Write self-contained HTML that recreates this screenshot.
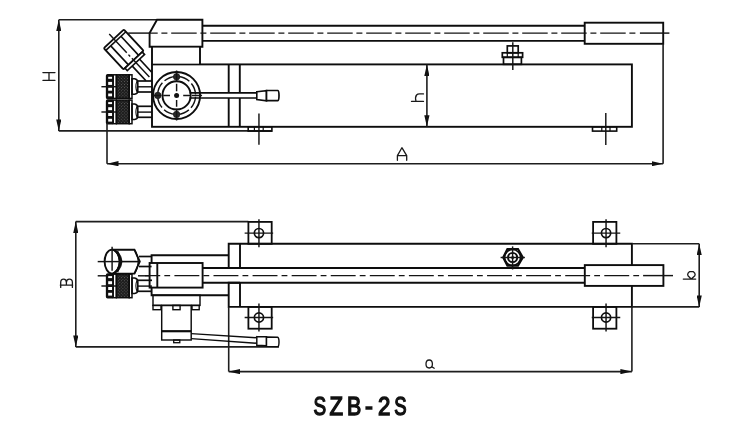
<!DOCTYPE html>
<html><head><meta charset="utf-8">
<style>
html,body{margin:0;padding:0;background:#fff;width:751px;height:439px;overflow:hidden}
svg{display:block;will-change:transform}
.t{font-family:"Liberation Sans",sans-serif}
.d{stroke:#1e1e1e;stroke-width:1.6}
.c{stroke:#141414;stroke-width:1.45}
</style></head>
<body>
<svg width="751" height="439" viewBox="0 0 751 439">
<defs>
<pattern id="kn" width="2.2" height="2.2" patternUnits="userSpaceOnUse" patternTransform="rotate(45)">
<rect width="2.2" height="2.2" fill="#1c1c1c"/><rect x="0" y="0" width="0.9" height="0.9" fill="#606060"/>
</pattern>
<marker id="ar" viewBox="0 0 11.5 5.2" refX="11.5" refY="2.6" markerWidth="11.5" markerHeight="5.2" markerUnits="userSpaceOnUse" orient="auto-start-reverse">
<path d="M0,0 L11.5,2.6 L0,5.2 Z" fill="#111" stroke="none"/>
</marker>
</defs>
<g fill="none" stroke="#0d0d0d" stroke-width="1.9">

<!-- ================= TOP VIEW ================= -->
<!-- H dimension -->
<line class="d" x1="58.8" y1="19.7" x2="58.8" y2="130.9" marker-start="url(#ar)" marker-end="url(#ar)"/>
<line class="d" x1="58.8" y1="19.8" x2="157" y2="19.8"/>
<line class="d" x1="58.8" y1="130.9" x2="272" y2="130.9"/>

<!-- handle block -->
<path d="M157,19.8 L202.4,19.8 L202.4,46.8 L149.6,46.8 L149.6,33 Z"/>
<!-- handle rod -->
<line x1="202.5" y1="25.7" x2="584.7" y2="25.7"/>
<line x1="202.5" y1="40.9" x2="584.7" y2="40.9"/>
<rect x="584.7" y="22.7" width="78.5" height="21.1"/>
<line class="c" x1="150" y1="33.1" x2="636" y2="33.1" stroke-dasharray="25.5 3.7 6 3.8" stroke-dashoffset="17.8"/>
<line class="c" x1="639.9" y1="33.1" x2="669.4" y2="33.1"/>

<!-- main body -->
<rect x="152" y="64.4" width="479.9" height="62.4"/>
<line x1="228.7" y1="64.4" x2="228.7" y2="126.8"/>
<line x1="239.8" y1="64.4" x2="239.8" y2="126.8"/>

<!-- valve circle -->
<circle cx="176.6" cy="95.5" r="23.5"/>
<circle cx="176.6" cy="95.4" r="14.1"/>
<circle cx="176.6" cy="95.4" r="19" class="c" stroke-dasharray="12 2.9" stroke-dashoffset="13.45"/>
<g fill="#2a2a2a" stroke="#1a1a1a" stroke-width="0.8">
<circle cx="176.6" cy="76.8" r="3.2"/>
<circle cx="176.6" cy="114.4" r="3.2"/>
<circle cx="157.8" cy="95.4" r="3.2"/>
</g>
<circle cx="176.6" cy="95.4" r="2.5" fill="#111" stroke="none"/>
<path class="c" d="M176.6,70.5 L176.6,81.8 M176.6,83.7 L176.6,91.2 M176.6,100 L176.6,106.8 M176.6,108.7 L176.6,120.6 M153,95.4 L161.3,95.4 M163.2,95.4 L170,95.4 M183.2,95.4 L190.1,95.4 M192,95.4 L202.2,95.4"/>
<!-- lever rod -->
<rect x="202.2" y="92.9" width="54.7" height="5.1" fill="#fff" stroke="none"/>
<path stroke-width="1.7" d="M189.5,92.9 L256.8,92.9 M189.5,98 L256.8,98"/>
<path stroke-width="1.6" d="M256.8,91.7 L266.5,90.7 L266.5,100.8 L256.8,99.6 Z" fill="#fff"/>
<path stroke-width="1.7" d="M266.5,90.5 L277.8,90.5 Q279,90.8 279,95.6 Q279,100.4 277.8,100.7 L266.5,100.7 Z" fill="#fff"/>

<!-- knobs top view -->
<g id="knob">
<rect x="106.6" y="74.8" width="6.5" height="23.6" rx="1" fill="#111" stroke-width="1.5"/>
<g fill="#fff" stroke="none">
<rect x="108.2" y="76.8" width="4" height="2"/>
<rect x="108.2" y="81.9" width="4" height="3"/>
<rect x="108.2" y="87.7" width="4" height="3"/>
<rect x="108.2" y="93.5" width="4" height="2.8"/>
</g>
<rect x="113.1" y="74.8" width="3.2" height="23.6" stroke-width="1.5"/>
<rect x="116.5" y="74.8" width="12.7" height="23.6" fill="url(#kn)" stroke-width="1.5"/>
<rect x="129.2" y="74.8" width="2.8" height="23.6" stroke-width="1.5"/>
<path stroke-width="1.6" d="M132,78.7 L134.6,78.7 Q137.8,79.2 137.8,82.5 L137.8,90.8 Q137.8,94 134.6,94.2 L132,94.2 Z"/>
<path d="M137.2,80.6 Q134.6,86.5 137.2,92.4" stroke-width="1.1"/>
<line x1="137.8" y1="81" x2="152" y2="81" stroke-width="1.7"/>
<line x1="137.8" y1="92" x2="152" y2="92" stroke-width="1.7"/>
<line x1="137.8" y1="86.8" x2="152" y2="86.8" stroke-width="1.4"/>
<line class="c" x1="101.4" y1="86.7" x2="116" y2="86.7"/>
</g>
<use href="#knob" transform="translate(0,25.3)"/>
<line class="d" x1="107" y1="123" x2="107" y2="163.7"/>

<!-- angled knob -->
<g transform="translate(113.8,38.9) rotate(47)">
<path d="M32.2,-5 L49.9,-5 M32.2,5 L52.5,5" stroke-width="1.7"/>
<rect x="0" y="-13.7" width="29" height="27.4" rx="1.2" fill="#fff"/>
<line x1="3" y1="-13.7" x2="3" y2="13.7" stroke-width="1.6"/>
<line x1="3" y1="-7" x2="29" y2="-7" stroke-width="1.6"/>
<line x1="3" y1="7" x2="29" y2="7" stroke-width="1.6"/>
<rect x="29" y="-11.8" width="3.4" height="23.6" fill="#fff" stroke-width="1.7"/>
<line class="c" x1="-6.7" y1="0" x2="55.3" y2="0" stroke-dasharray="25.7 2.5 2.5 2.5"/>
</g>
<line class="c" x1="128.2" y1="33.1" x2="150" y2="33.1"/>
<rect x="152" y="47.8" width="48" height="15.6" fill="#fff" stroke="none"/>
<path d="M152,46.8 L152,64.4 M200,64.4 L200,46.8"/>

<!-- top nut -->
<rect x="507.3" y="45.9" width="10.9" height="6.9" stroke-width="1.7"/>
<rect x="502.3" y="52.8" width="20.3" height="4.5" stroke-width="1.7"/>
<rect x="503.5" y="57.3" width="17.9" height="7" stroke-width="1.7"/>
<path d="M507.3,52.8 L507.3,57.3 M518.2,52.8 L518.2,57.3" stroke-width="1.2"/>
<line class="c" x1="512.8" y1="42.3" x2="512.8" y2="70.1"/>

<!-- feet top view -->
<rect x="248.2" y="126.8" width="23.7" height="4.3" stroke-width="1.6"/>
<path d="M254.4,126.8 L254.4,131.1 M263.2,126.8 L263.2,131.1" stroke-width="1.2"/>
<rect x="592.5" y="126.8" width="24.2" height="4.3" stroke-width="1.6"/>
<path d="M601.8,126.8 L601.8,131.1 M610,126.8 L610,131.1" stroke-width="1.2"/>
<line class="c" x1="258.95" y1="113.6" x2="258.95" y2="144.8"/>
<line class="c" x1="605.8" y1="113" x2="605.8" y2="145"/>

<!-- h dimension -->
<line class="d" x1="426.9" y1="64.4" x2="426.9" y2="126.8" marker-start="url(#ar)" marker-end="url(#ar)"/>
<!-- A dimension -->
<line class="d" x1="107" y1="163.7" x2="663.1" y2="163.7" marker-start="url(#ar)" marker-end="url(#ar)"/>
<line class="d" x1="663.1" y1="43.8" x2="663.1" y2="163.7"/>

<!-- ================= BOTTOM VIEW ================= -->
<line class="d" x1="75.8" y1="221.6" x2="75.8" y2="346.9" marker-start="url(#ar)" marker-end="url(#ar)"/>
<line class="d" x1="75.8" y1="221.6" x2="248.4" y2="221.6"/>
<line class="d" x1="75.8" y1="346.9" x2="279" y2="346.9"/>

<!-- main body -->
<path d="M240,268 L228.7,268 L228.7,243.8 L631.9,243.8 L631.9,265.1 M631.9,285.9 L631.9,306.9 L228.7,306.9 L228.7,282.8 L240,282.8"/>
<line x1="240" y1="243.8" x2="240" y2="268"/>
<line x1="240" y1="282.8" x2="240" y2="306.9"/>
<line x1="202.6" y1="268" x2="584.8" y2="268"/>
<line x1="202.6" y1="282.8" x2="584.8" y2="282.8"/>
<rect x="584.8" y="265.1" width="78.6" height="20.8"/>

<!-- feet -->
<rect x="248.4" y="221.9" width="23.3" height="21.9" stroke-width="1.8"/>
<circle cx="258.95" cy="233.1" r="4.6" stroke-width="1.7"/>
<path class="c" d="M244.65,233.1 L273.15,233.1 M258.95,219.2 L258.95,247.2"/>
<rect x="248.4" y="306.9" width="23.3" height="21.8" stroke-width="1.8"/>
<circle cx="258.95" cy="317.5" r="4.6" stroke-width="1.7"/>
<path class="c" d="M244.65,317.5 L273.15,317.5 M258.95,303.6 L258.95,331.6"/>
<rect x="593.1" y="221.9" width="23.3" height="21.9" stroke-width="1.8"/>
<circle cx="606.05" cy="233.1" r="4.6" stroke-width="1.7"/>
<path class="c" d="M591.75,233.1 L620.25,233.1 M606.05,219.2 L606.05,247.2"/>
<rect x="593.1" y="306.9" width="23.3" height="21.8" stroke-width="1.8"/>
<circle cx="606.05" cy="317.5" r="4.6" stroke-width="1.7"/>
<path class="c" d="M591.75,317.5 L620.25,317.5 M606.05,303.6 L606.05,331.6"/>

<!-- hex nut -->
<path d="M503.2,257.4 L507.4,249 L518,249 L522.8,257.4 L518,265.6 L507.4,265.6 Z" stroke-width="2.1"/>
<circle cx="512.6" cy="257.5" r="8" stroke-width="1.7"/>
<circle cx="512.6" cy="257.5" r="4.6" stroke-width="1.9"/>
<circle cx="512.6" cy="257.5" r="1.5" fill="#111" stroke="none"/>
<line class="c" x1="500.6" y1="257.5" x2="524.9" y2="257.5"/>
<line class="c" x1="512.6" y1="246.4" x2="512.6" y2="269.5"/>

<!-- valve block bottom view -->
<path d="M228.7,255.2 L151.6,255.2 L151.6,295.2 L228.7,295.2"/>
<rect x="149.6" y="263" width="53" height="24.6" fill="#fff"/>
<line x1="157.3" y1="263" x2="157.3" y2="287.6"/>

<!-- hex cap bottom view -->
<line x1="139" y1="256.5" x2="151.6" y2="256.5" stroke-width="1.7"/>
<line x1="139" y1="266.5" x2="151.6" y2="266.5" stroke-width="1.7"/>
<path d="M112.1,249.7 L134.4,249.7 L139.8,261.6 L134.4,273.6 L112.1,273.6" fill="#fff"/>
<path d="M134.4,249.7 Q137.6,254 138.3,261.6 Q137.6,269 134.4,273.6" stroke-width="1.3"/>
<ellipse cx="112.1" cy="261.6" rx="7.5" ry="12" fill="#fff"/>
<path d="M112.1,249.6 Q121,251 122,261.6 Q121,272 112.1,273.6 Q118.6,270 119.6,261.6 Q118.6,253 112.1,249.6 Z" fill="#111" stroke-width="0.8"/>
<path d="M117.6,251 L121.6,261.6 L117.6,272.2" stroke-width="1.3"/>
<line x1="121.6" y1="261.6" x2="140" y2="261.6" stroke-width="1.6"/>
<line class="c" x1="97.7" y1="261.6" x2="122" y2="261.6"/>
<line class="c" x1="112.1" y1="246.8" x2="112.1" y2="270.7"/>
<use href="#knob" transform="translate(0,199.3)"/>
<line class="c" x1="97.7" y1="275.8" x2="107" y2="275.8"/>
<line class="c" x1="138" y1="275.8" x2="149.6" y2="275.8"/>

<line class="c" x1="145" y1="275.6" x2="640" y2="275.6" stroke-dasharray="24.9 4.1 5.8 4.28" stroke-dashoffset="9.66"/>
<line class="c" x1="643.1" y1="275.6" x2="673" y2="275.6"/>
<!-- b dimension -->
<line class="d" x1="631.9" y1="243.8" x2="699.2" y2="243.8"/>
<line class="d" x1="631.9" y1="306.9" x2="699.2" y2="306.9"/>
<line class="d" x1="699.2" y1="243.8" x2="699.2" y2="306.9" marker-start="url(#ar)" marker-end="url(#ar)"/>

<!-- a dimension -->
<line class="d" x1="228.7" y1="306.9" x2="228.7" y2="371.6"/>
<line class="d" x1="631.9" y1="306.9" x2="631.9" y2="371.6"/>
<line class="d" x1="228.7" y1="371.6" x2="631.9" y2="371.6" marker-start="url(#ar)" marker-end="url(#ar)"/>

<!-- pump body -->
<rect x="153" y="295.2" width="47" height="10.2" stroke-width="1.45"/>
<rect x="153" y="305.4" width="8" height="4.3" stroke-width="1.4"/>
<rect x="172.9" y="305.4" width="7.2" height="4.3" stroke-width="1.4"/>
<rect x="192" y="305.4" width="7.2" height="4.3" stroke-width="1.4"/>
<rect x="161.7" y="305.4" width="29.5" height="34.6" stroke-width="1.45"/>
<line x1="161.7" y1="331.2" x2="191.2" y2="331.2" stroke-width="2.2"/>
<rect x="173.7" y="340" width="6.1" height="2.7" stroke-width="1.3"/>
<!-- lever -->
<path d="M191.2,333.6 L256.8,337.7 M191.2,338.6 L256.8,343.3" stroke-width="1.45"/>
<path stroke-width="1.45" d="M256.8,336.6 L266.5,336.8 L266.5,345.8 L256.8,345.2 Z" fill="#fff"/>
<path stroke-width="1.45" d="M266.5,337 L277.6,337.2 Q279,337.6 279,341.9 Q279,346.4 277.6,346.6 L266.5,346.4 Z" fill="#fff"/>

<!-- labels -->
<g stroke-width="1.3" stroke="#1a1a1a" stroke-linecap="round" stroke-linejoin="round">
<path d="M42.9,72.6 L55,72.6 M42.9,80.3 L55,80.3 M49,72.6 L49,80.3"/>
<path d="M411.5,101.4 L423.5,101.4 M416,101.4 Q414.8,97.2 416.6,95 Q417.6,93.9 419.5,93.9 L423.5,93.9"/>
<path d="M397.4,160.3 L397.4,155.6 L401.9,147.7 L406.7,155.6 L406.7,160.3 M397.4,155.6 L406.7,155.6"/>
<path d="M60.7,287.4 L60.7,282.6 Q60.7,279.2 63.6,279.2 Q66.4,279.2 66.4,282.4 L66.4,285.1 M66.4,282.4 Q66.4,279.2 69.4,279.2 Q72.4,279.2 72.4,282.6 L72.4,287.4 M60.3,285.1 L72.7,285.1"/>
<path d="M683.3,279.1 L695.7,279.1 M691.2,279 L688.2,276 Q687.2,274.6 688,273.2 L689.5,271.6 L693.3,271.6 L694.8,273.2 Q695.6,274.6 694.6,276 Z"/>
<path d="M429.2,360 C426.9,360 426,362 426,364.1 C426,366.3 427.2,368 429.2,368 C431.2,368 432.4,366.3 432.4,364.1 C432.4,362 431.5,360 429.2,360 Z M431.5,366.6 L434.2,368.2"/>
</g>

</g>
<g class="t" font-size="25.5" fill="#111" stroke="#111" stroke-width="1.4"><text x="313.59" y="414.9" textLength="12.65" lengthAdjust="spacingAndGlyphs">S</text><text x="329.55" y="414.9" textLength="13.49" lengthAdjust="spacingAndGlyphs">Z</text><text x="347.02" y="414.9" textLength="14.29" lengthAdjust="spacingAndGlyphs">B</text><text x="365.00" y="414.9" textLength="7.86" lengthAdjust="spacingAndGlyphs">-</text><text x="378.02" y="414.9" textLength="12.38" lengthAdjust="spacingAndGlyphs">2</text><text x="394.17" y="414.9" textLength="12.34" lengthAdjust="spacingAndGlyphs">S</text></g>
</svg>
</body></html>
